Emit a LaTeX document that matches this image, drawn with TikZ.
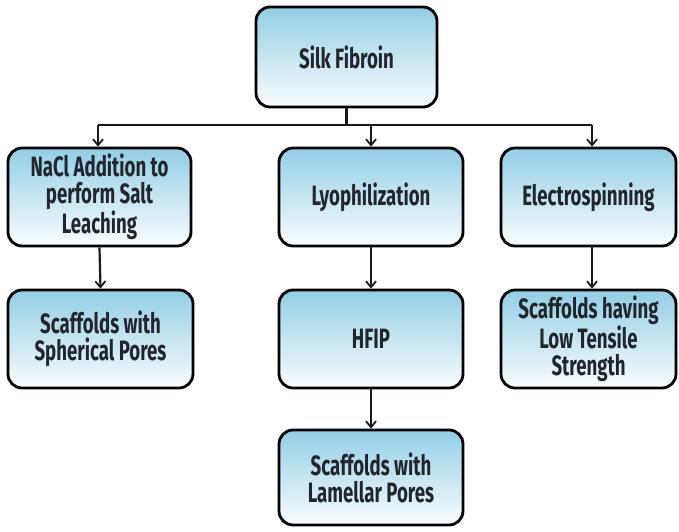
\documentclass[tikz,border=0pt]{standalone}
\usepackage{fontspec}
\setmainfont{Fira Sans}[FakeStretch=0.665,UprightFont=* Bold,BoldFont=* Bold]
\usetikzlibrary{arrows.meta}
\definecolor{boxtop}{RGB}{92,182,217}
\definecolor{ink}{RGB}{34,38,44}
% blue at the top fading to white toward the bottom
\pgfdeclareverticalshading{boxshade}{100bp}{color(0bp)=(white); color(22bp)=(white); color(62bp)=(boxtop!50!white); color(100bp)=(boxtop)}
\tikzset{
  x=1pt, y=-1pt,
  stepbox/.style={draw=black, line width=2.8pt, rounded corners=14pt,
    shading=boxshade, inner sep=2pt,
    minimum width=#1, text=ink, align=center,
    font=\fontsize{28}{27}\selectfont},
  stepbox/.default=183pt,
  link/.style={draw=black!90, line width=2.2pt},
  arr/.style={link, -{Straight Barb[length=6pt,width=10pt,line width=1.8pt]}},
}
\begin{document}
\begin{tikzpicture}
\useasboundingbox (0,0) rectangle (679,531);
% top box
\node[stepbox=181pt, minimum height=100pt] (silk) at (346.5,57) {Silk Fibroin};
% second row
\node[stepbox=183pt, minimum height=98pt] (nacl) at (99.5,197) {NaCl Addition to\\perform Salt\\Leaching};
\node[stepbox=184pt, minimum height=98pt] (lyo) at (371,197) {Lyophilization};
\node[stepbox=175pt, minimum height=98pt] (elec) at (588.5,197) {Electrospinning};
% third row
\node[stepbox=185pt, minimum height=98pt] (sph) at (100.5,339) {Scaffolds with\\Spherical Pores};
\node[stepbox=184pt, minimum height=98pt] (hfip) at (371,339) {HFIP};
\node[stepbox=175pt, minimum height=98pt] (low) at (588.5,339) {Scaffolds having\\Low Tensile\\Strength};
% fourth row
\node[stepbox=184pt, minimum height=95pt] (lam) at (371,477.5) {Scaffolds with\\Lamellar Pores};
% branching connector
\coordinate (bar) at (346.5,125);
\coordinate (barL) at (98,125);
\coordinate (barR) at (592,125);
\coordinate (barM) at (371,125);
\draw[link] (silk.south) -- (bar);
\draw[link] (barL) -- (barR);
\draw[arr] (barL) -- (barL |- nacl.north);
\draw[arr] (barM) -- (lyo.north);
\draw[arr] (barR) -- (barR |- elec.north);
% vertical links
\draw[arr] (nacl.south) -- (sph.north);
\draw[arr] (lyo.south) -- (hfip.north);
\draw[arr] (barR |- elec.south) -- (barR |- low.north);
\draw[arr] (hfip.south) -- (lam.north);
\end{tikzpicture}
\end{document}
